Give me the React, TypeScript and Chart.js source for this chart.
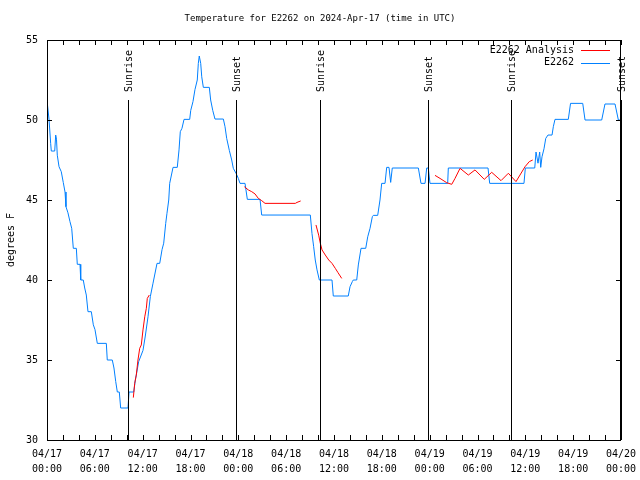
import React, { useEffect, useRef } from 'react';
import { Chart, registerables } from 'chart.js';

Chart.register(...registerables);

const TITLE = 'Temperature for E2262 on 2024-Apr-17 (time in UTC)';
const Y_TITLE = 'degrees F';

const xTickHours = [0, 6, 12, 18, 24, 30, 36, 42, 48, 54, 60, 66, 72];
const xTickDates = ['04/17', '04/17', '04/17', '04/17', '04/18', '04/18', '04/18', '04/18', '04/19', '04/19', '04/19', '04/19', '04/20'];
const xTickTimes = ['00:00', '06:00', '12:00', '18:00', '00:00', '06:00', '12:00', '18:00', '00:00', '06:00', '12:00', '18:00', '00:00'];
const yTickValues = [30, 35, 40, 45, 50, 55];

const sunEventHours = [10.2, 23.71, 34.28, 47.83, 58.2, 72.0];
const sunEventLabels = ['Sunrise', 'Sunset', 'Sunrise', 'Sunset', 'Sunrise', 'Sunset'];

// E2262 observations (hours since 04/17 00:00 UTC, degrees F)
const blueHours = [
  0.04, 0.25, 0.46, 0.54, 0.97, 1.09, 1.19, 1.29, 1.51, 1.79, 2.04, 2.26, 2.38, 2.63, 2.88, 3.10,
  3.30, 3.68, 3.80, 4.14, 4.23, 4.55, 4.73, 4.93, 5.14, 5.56, 5.81, 6.02, 6.31, 7.44, 7.56, 8.19,
  8.40, 8.62, 8.82, 9.07, 9.24, 10.16, 10.29, 10.88, 11.08, 11.20, 11.50, 12.04, 12.33, 12.67, 12.96,
  13.30, 13.80, 14.14, 14.43, 14.64, 14.89, 15.05, 15.27, 15.39, 15.81, 16.34, 16.56, 16.72, 16.93,
  17.19, 17.90, 18.03, 18.31, 18.56, 18.85, 18.98, 19.10, 19.28, 19.41, 19.61, 20.36, 20.53, 20.79,
  21.07, 22.12, 22.33, 22.54, 22.87, 23.17, 23.37, 23.71, 24.00, 24.21, 24.84, 25.13, 26.72, 26.93,
  33.03, 33.24, 33.45, 33.65, 33.87, 34.16, 35.75, 35.91, 37.79, 38.01, 38.30, 38.42, 38.85, 39.05,
  39.39, 39.98, 40.23, 40.52, 40.81, 40.93, 41.48, 41.77, 41.98, 42.40, 42.61, 42.90, 43.11, 43.31,
  46.58, 46.91, 47.42, 47.63, 47.83, 48.04, 50.26, 50.34, 55.32, 55.53, 59.83, 60.00, 61.18, 61.34,
  61.59, 61.80, 61.93, 62.09, 62.34, 62.56, 62.84, 63.35, 63.51, 63.72, 65.39, 65.67, 67.20, 67.49,
  69.58, 69.99, 71.25, 71.67, 71.88,
];
const blueTemps = [
  51.04, 50.06, 48.54, 48.06, 48.06, 49.06, 48.8, 47.8, 47.08, 46.77, 46.1, 45.5, 44.58, 44.2, 43.65, 43.23,
  41.98, 41.98, 40.98, 40.98, 40.0, 40.0, 39.5, 39.06, 38.02, 38.02, 37.2, 36.9, 36.04, 36.04, 35.0, 35.0,
  34.5, 33.65, 33.0, 33.0, 32.0, 32.0, 33.0, 33.0, 33.75, 34.06, 34.9, 35.6, 36.5, 37.7, 38.96,
  39.8, 41.04, 41.04, 41.9, 42.3, 43.54, 44.17, 45.0, 46.04, 47.04, 47.04, 48.13, 49.27, 49.48,
  50.04, 50.04, 50.6, 51.15, 51.9, 52.5, 53.54, 54.0, 53.54, 52.7, 52.04, 52.04, 51.25, 50.6,
  50.06, 50.06, 49.58, 48.85, 48.1, 47.5, 46.98, 46.67, 46.35, 46.04, 46.04, 45.04, 45.04, 44.06,
  44.06, 42.9, 42.08, 41.25, 40.63, 40.0, 40.0, 39.0, 39.0, 39.58, 39.9, 40.0, 40.0, 40.94,
  41.98, 41.98, 42.7, 43.23, 43.96, 44.04, 44.04, 45.0, 46.04, 46.04, 47.04, 47.04, 46.1, 47.0,
  47.0, 46.04, 46.04, 47.0, 47.0, 46.04, 46.04, 47.0, 47.0, 46.04, 46.04, 47.0, 47.0, 48.0,
  47.3, 48.0, 47.04, 47.7, 48.2, 48.85, 49.06, 49.06, 49.58, 50.04, 50.04, 51.04, 51.04, 50.0,
  50.0, 51.0, 51.0, 50.0, 50.0,
];

// E2262 Analysis (four separate runs)
const analysis1Hours = [10.83, 11.00, 11.20, 11.41, 11.63, 11.83, 12.04, 12.26, 12.46, 12.58, 12.83];
const analysis1Temps = [32.65, 33.54, 34.06, 35.0, 35.73, 35.94, 36.88, 37.7, 38.23, 38.85, 39.06];
const analysis2Hours = [24.75, 25.25, 25.68, 26.09, 26.51, 26.93, 27.35, 31.15, 31.36, 31.82];
const analysis2Temps = [45.83, 45.63, 45.52, 45.38, 45.1, 44.96, 44.79, 44.79, 44.85, 44.94];
const analysis3Hours = [33.74, 34.08, 34.28, 34.50, 34.91, 35.34, 35.75, 36.16, 36.50, 36.97];
const analysis3Temps = [43.44, 42.8, 42.3, 41.88, 41.56, 41.25, 41.04, 40.73, 40.46, 40.1];
const analysis4Hours = [48.67, 49.30, 50.14, 50.77, 51.18, 51.81, 52.85, 53.69, 54.85, 55.78, 56.95, 57.87, 58.83, 59.96, 60.50, 60.93];
const analysis4Temps = [46.54, 46.35, 46.08, 45.98, 46.35, 46.98, 46.56, 46.88, 46.29, 46.73, 46.21, 46.67, 46.15, 47.08, 47.4, 47.5];

const BLUE = '#0080ff';
const RED = '#ff0000';
const FONT_FAMILY = '"DejaVu Sans Mono", monospace';
const FONT_SIZE = 10;
const TITLE_FONT_SIZE = 9;

function toPoints(hs: number[], ts: number[]) {
  return hs.map((h, i) => ({ x: h, y: ts[i] }));
}

function analysisPoints() {
  const segs = [
    [analysis1Hours, analysis1Temps],
    [analysis2Hours, analysis2Temps],
    [analysis3Hours, analysis3Temps],
    [analysis4Hours, analysis4Temps],
  ];
  const out: { x: number; y: number | null }[] = [];
  segs.forEach(([hs, ts], k) => {
    if (k > 0) out.push({ x: (hs[0] + out[out.length - 1].x) / 2, y: null });
    out.push(...toPoints(hs, ts));
  });
  return out;
}

const decor = {
  id: 'gnuplotDecor',
  afterDatasetsDraw(chart: any) {
    const { ctx, chartArea: a, scales } = chart;
    const xs = scales.x;
    const ys = scales.y;
    const font = `${FONT_SIZE}px ${FONT_FAMILY}`;
    ctx.save();
    ctx.strokeStyle = '#000';
    ctx.lineWidth = 1;
    // frame
    ctx.strokeRect(Math.round(a.left) + 0.5, Math.round(a.top) + 0.5, Math.round(a.right - a.left) - 1, Math.round(a.bottom - a.top));
    // x ticks every 2 hours, inward on bottom and top
    ctx.beginPath();
    for (let h = xs.min; h <= xs.max; h += 2) {
      const px = Math.round(xs.getPixelForValue(h)) + 0.5;
      ctx.moveTo(px, a.bottom);
      ctx.lineTo(px, a.bottom - 5);
      ctx.moveTo(px, a.top);
      ctx.lineTo(px, a.top + 5);
    }
    yTickValues.forEach((v) => {
      const py = Math.round(ys.getPixelForValue(v)) + 0.5;
      ctx.moveTo(a.left, py);
      ctx.lineTo(a.left + 5, py);
      ctx.moveTo(a.right, py);
      ctx.lineTo(a.right - 5, py);
    });
    ctx.stroke();

    // sunrise / sunset markers
    ctx.font = font;
    ctx.fillStyle = '#000';
    const lineTop = a.top + 0.15 * (a.bottom - a.top);
    const labelY = a.top + 0.13 * (a.bottom - a.top);
    sunEventHours.forEach((h, i) => {
      const px = Math.round(xs.getPixelForValue(h)) + 0.5;
      ctx.beginPath();
      ctx.moveTo(px, lineTop);
      ctx.lineTo(px, a.bottom);
      ctx.stroke();
      ctx.save();
      ctx.translate(px + 1, labelY);
      ctx.rotate(-Math.PI / 2);
      ctx.textAlign = 'left';
      ctx.textBaseline = 'middle';
      ctx.fillText(sunEventLabels[i], 0, 0);
      ctx.restore();
    });

    // legend (top right inside)
    const entries = chart.data.datasets.map((d: any) => ({ label: d.label, color: d.borderColor }));
    entries.forEach((e: any, i: number) => {
      const y = a.top + 10 + i * 12.7;
      ctx.textAlign = 'right';
      ctx.textBaseline = 'middle';
      ctx.fillStyle = '#000';
      ctx.fillText(e.label, a.right - 47, y);
      ctx.strokeStyle = e.color;
      ctx.beginPath();
      ctx.moveTo(a.right - 40, Math.round(y) + 0.5);
      ctx.lineTo(a.right - 11, Math.round(y) + 0.5);
      ctx.stroke();
    });

    // y axis title
    ctx.fillStyle = '#000';
    ctx.save();
    ctx.translate(11, (a.top + a.bottom) / 2);
    ctx.rotate(-Math.PI / 2);
    ctx.textAlign = 'center';
    ctx.textBaseline = 'middle';
    ctx.fillText(Y_TITLE, 0, 0);
    ctx.restore();

    // title
    ctx.font = `${TITLE_FONT_SIZE}px ${FONT_FAMILY}`;
    ctx.textAlign = 'center';
    ctx.textBaseline = 'middle';
    ctx.fillText(TITLE, chart.width / 2, 19);
    ctx.restore();
  },
};

export default function App() {
  const ref = useRef<HTMLCanvasElement | null>(null);
  useEffect(() => {
    if (!ref.current) return;
    const font = { family: FONT_FAMILY, size: FONT_SIZE, lineHeight: 1.5 };
    const chart = new Chart(ref.current, {
      type: 'line',
      data: {
        datasets: [
          {
            label: 'E2262 Analysis',
            data: analysisPoints(),
            borderColor: RED,
            borderWidth: 1,
            pointRadius: 0,
            spanGaps: false,
            tension: 0,
          },
          {
            label: 'E2262',
            data: toPoints(blueHours, blueTemps),
            borderColor: BLUE,
            borderWidth: 1,
            pointRadius: 0,
            tension: 0,
          },
        ],
      },
      options: {
        animation: false,
        responsive: false,
        devicePixelRatio: 1,
        layout: { padding: { top: 40, right: 19, left: 0, bottom: 0 } },
        plugins: { legend: { display: false }, tooltip: { enabled: false }, title: { display: false } },
        scales: {
          x: {
            type: 'linear',
            min: 0,
            max: 72,
            afterBuildTicks: (s: any) => {
              s.ticks = xTickHours.map((v) => ({ value: v }));
            },
            afterFit: (s: any) => {
              s.height = 40;
              s.paddingLeft = 0;
              s.paddingRight = 0;
            },
            ticks: {
              autoSkip: false,
              maxRotation: 0,
              minRotation: 0,
              padding: 7,
              color: '#000',
              font,
              callback: (_v: any, i: number) => [xTickDates[i], xTickTimes[i]],
            },
            grid: { display: false, drawTicks: false },
            border: { display: false },
          },
          y: {
            type: 'linear',
            min: 30,
            max: 55,
            afterBuildTicks: (s: any) => {
              s.ticks = yTickValues.map((v) => ({ value: v }));
            },
            afterFit: (s: any) => {
              s.width = 47;
              s.paddingTop = 0;
              s.paddingBottom = 0;
            },
            ticks: {
              padding: 9,
              color: '#000',
              font: { family: FONT_FAMILY, size: FONT_SIZE },
              callback: (v: any) => String(v),
            },
            grid: { display: false, drawTicks: false },
            border: { display: false },
          },
        },
      },
      plugins: [decor],
    });
    return () => chart.destroy();
  }, []);
  return (
    <div style={{ position: 'absolute', left: 0, top: 0, width: 640, height: 480, background: '#fff' }}>
      <canvas ref={ref} width={640} height={480} />
    </div>
  );
}
